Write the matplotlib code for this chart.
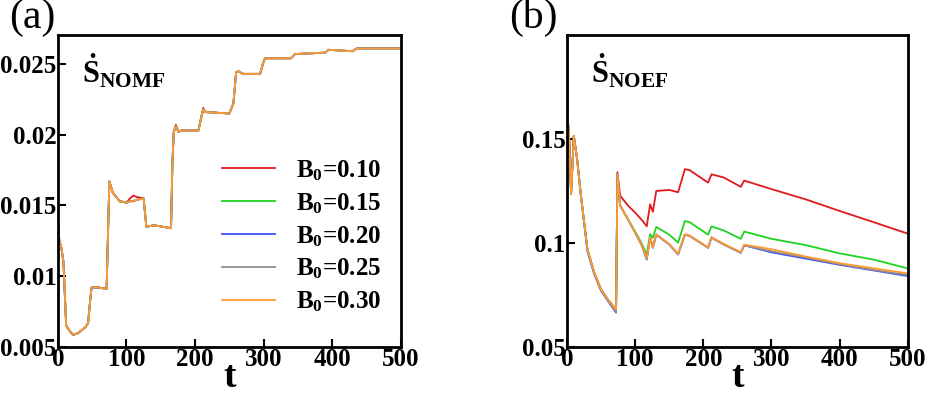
import matplotlib
matplotlib.use('Agg')
import matplotlib.pyplot as plt
import numpy as np

plt.rcParams['font.family'] = 'Liberation Serif'
plt.rcParams['font.weight'] = 'bold'
plt.rcParams['mathtext.fontset'] = 'custom'
plt.rcParams['mathtext.rm'] = 'Liberation Serif:bold'
plt.rcParams['mathtext.bf'] = 'Liberation Serif:bold'


# panel (a): S_NOMF, all five curves nearly on top of each other
nomf_t = [0, 2, 5, 8, 12, 16, 22, 30, 35, 40, 44, 47, 49, 60, 71, 73, 75, 80, 90, 100,
          105, 110, 115, 125, 127, 129, 140, 165, 167, 169, 172, 176, 180, 205, 209,
          212, 215, 250, 256, 260, 263, 270, 295, 299, 302, 340, 346, 390, 395, 430,
          436, 500]
nomf_common = [0.0138, 0.0125, 0.0120, 0.0110, 0.0065, 0.0062, 0.00585, 0.0060, 0.0062,
               0.0064, 0.0067, 0.0083, 0.0092, 0.0092, 0.0091, 0.0130, 0.0167, 0.0159,
               0.0153, 0.0152, 0.0153, 0.0153, 0.0154, 0.0155, 0.0145, 0.0135, 0.0136,
               0.0134, 0.0180, 0.0202, 0.0206, 0.0202, 0.0203, 0.0203, 0.0212, 0.0218,
               0.0216, 0.0215, 0.0222, 0.0244, 0.0245, 0.0243, 0.0243, 0.0250, 0.0254,
               0.0254, 0.0257, 0.0258, 0.0260, 0.0259, 0.0261, 0.0261]
nomf_b010 = [0.0138, 0.0125, 0.0120, 0.0110, 0.0065, 0.0062, 0.00585, 0.0060, 0.0062,
             0.0064, 0.0067, 0.0083, 0.0092, 0.0092, 0.0091, 0.0130, 0.0167, 0.0159,
             0.0153, 0.0152, 0.0155, 0.0157, 0.0156, 0.0155, 0.0145, 0.0135, 0.0136,
             0.0134, 0.0180, 0.0202, 0.0207, 0.0202, 0.0203, 0.0203, 0.0212, 0.0219,
             0.0216, 0.0215, 0.0222, 0.0244, 0.0245, 0.0243, 0.0243, 0.0250, 0.0254,
             0.0254, 0.0257, 0.0258, 0.0260, 0.0259, 0.0261, 0.0261]

# panel (b): S_NOEF
noef_t = [0, 1, 3, 6, 10, 15, 20, 30, 40, 50, 60, 72, 74, 78, 90, 100, 110, 117, 122,
          126, 131, 150, 163, 173, 180, 207, 212, 230, 255, 260, 300, 350, 400, 450, 500]
noef_b010 = [0.25, 0.160, 0.152, 0.1235, 0.1515, 0.140, 0.124, 0.097, 0.0857, 0.0777,
             0.0728, 0.068, 0.134, 0.1227, 0.1178, 0.1146, 0.111, 0.108, 0.1186,
             0.115, 0.125, 0.1255, 0.1244, 0.1355, 0.135, 0.129, 0.133, 0.1315, 0.127,
             0.130, 0.1259, 0.121, 0.1154, 0.110, 0.1045]
noef_b015 = [0.25, 0.160, 0.152, 0.1235, 0.1515, 0.140, 0.124, 0.097, 0.0857, 0.0777,
             0.0728, 0.068, 0.133, 0.118, 0.111, 0.1055, 0.0995, 0.0945, 0.1042,
             0.1025, 0.1077, 0.104, 0.1002, 0.1106, 0.110, 0.104, 0.108, 0.106, 0.102,
             0.1055, 0.102, 0.099, 0.095, 0.092, 0.0878]
noef_b020 = [0.25, 0.160, 0.152, 0.1235, 0.1515, 0.140, 0.124, 0.096, 0.0850, 0.0770,
             0.0722, 0.0665, 0.133, 0.118, 0.111, 0.105, 0.0986, 0.092, 0.1026,
             0.0977, 0.104, 0.0993, 0.0945, 0.104, 0.1034, 0.0977, 0.1026, 0.0993,
             0.0953, 0.0989, 0.0955, 0.0925, 0.0895, 0.0868, 0.0841]
noef_b025 = [0.25, 0.160, 0.152, 0.1235, 0.1515, 0.140, 0.124, 0.0965, 0.0853, 0.0773,
             0.0725, 0.0668, 0.133, 0.118, 0.111, 0.105, 0.0986, 0.0922, 0.1026,
             0.0977, 0.104, 0.0993, 0.0945, 0.104, 0.1034, 0.0977, 0.1026, 0.0993,
             0.0953, 0.0989, 0.0960, 0.0930, 0.0898, 0.0870, 0.0846]
noef_b030 = [0.25, 0.160, 0.152, 0.1235, 0.1515, 0.140, 0.124, 0.097, 0.0857, 0.0777,
             0.0728, 0.068, 0.133, 0.118, 0.111, 0.105, 0.0988, 0.0925, 0.1028,
             0.0979, 0.1042, 0.0995, 0.0948, 0.1042, 0.1036, 0.0979, 0.1028, 0.0996,
             0.0956, 0.0992, 0.0970, 0.0935, 0.0903, 0.0878, 0.0854]

b0_labels = ['0.10', '0.15', '0.20', '0.25', '0.30']
colors = ['#e0191c', '#1ed41e', '#3c50ff', '#8c8c8c', '#ff9a32']

x_ticks = [0, 100, 200, 300, 400, 500]
a_yticks = [0.005, 0.01, 0.015, 0.02, 0.025]
a_yticklabels = ['0.005', '0.01', '0.015', '0.02', '0.025']
b_yticks = [0.05, 0.1, 0.15]
b_yticklabels = ['0.05', '0.1', '0.15']


def style_axes(ax, yticks, yticklabels):
    for sp in ax.spines.values():
        sp.set_linewidth(2.0)
    ax.tick_params(direction='in', length=6, width=1.5, labelsize=18, pad=1,
                   top=False, right=False)
    ax.set_xlim(0, 500)
    ax.set_xticks(x_ticks)
    ax.set_xticklabels([str(v) for v in x_ticks], fontweight='bold')
    ax.set_yticks(yticks)
    ax.set_yticklabels(yticklabels, fontweight='bold')
    ax.set_xlabel('t', fontsize=27, fontweight='bold', labelpad=-8)


fig = plt.figure(figsize=(9.26, 3.94), dpi=100)
ax_a = fig.add_axes([0.0626, 0.1193, 0.370, 0.792])
ax_b = fig.add_axes([0.6123, 0.1193, 0.368, 0.792])

nomf_series = [nomf_b010, nomf_common, nomf_common, nomf_common, nomf_common]
for vals, lab, c in zip(nomf_series, b0_labels, colors):
    ax_a.plot(nomf_t, vals, color=c, lw=1.3, label=r'$\mathrm{B_0}$=' + lab)
style_axes(ax_a, a_yticks, a_yticklabels)
ax_a.set_ylim(0.005, 0.02705)
ax_a.text(0.07, 0.885, r'$\dot{\mathrm{S}}_{\mathrm{NOMF}}$', transform=ax_a.transAxes,
          fontsize=22, va='center')
leg = ax_a.legend(loc='center left', bbox_to_anchor=(0.45, 0.355), frameon=False,
                  fontsize=18, handlelength=2.1, handletextpad=0.85, labelspacing=0.33,
                  borderaxespad=0)

noef_series = [noef_b010, noef_b015, noef_b020, noef_b025, noef_b030]
for vals, c in zip(noef_series, colors):
    ax_b.plot(noef_t, vals, color=c, lw=1.3)
style_axes(ax_b, b_yticks, b_yticklabels)
ax_b.set_ylim(0.05, 0.2)
ax_b.text(0.07, 0.885, r'$\dot{\mathrm{S}}_{\mathrm{NOEF}}$', transform=ax_b.transAxes,
          fontsize=22, va='center')

fig.text(0.035, 0.955, '(a)', fontsize=30, fontweight='normal', ha='center', va='center')
fig.text(0.576, 0.955, '(b)', fontsize=30, fontweight='normal', ha='center', va='center')

plt.savefig('out.png', dpi=100)
